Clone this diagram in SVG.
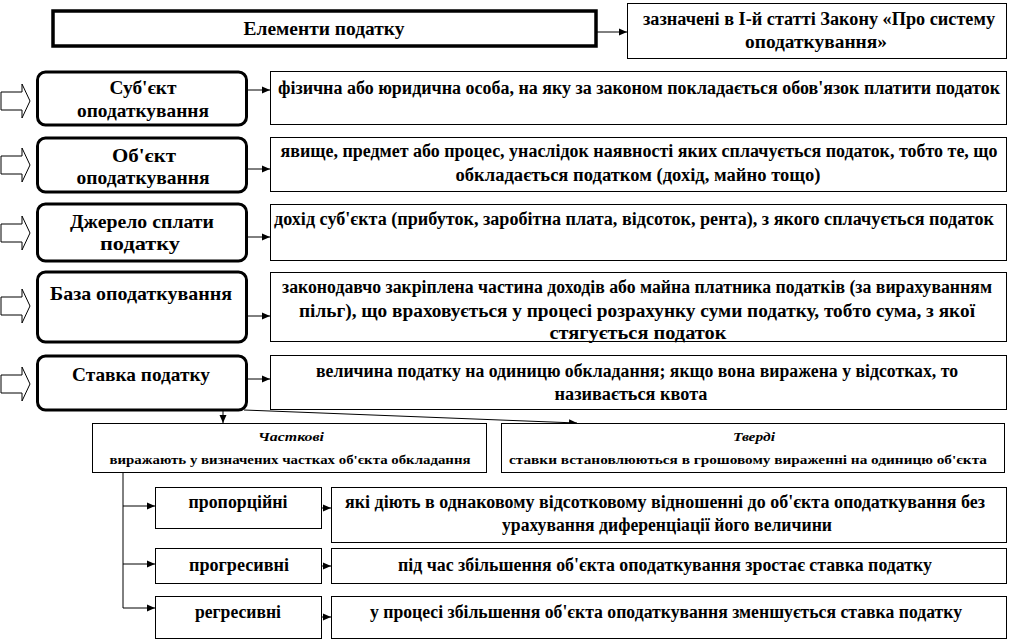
<svg xmlns="http://www.w3.org/2000/svg" width="1011" height="642" viewBox="0 0 1011 642">
<defs>
<marker id="ah" markerUnits="userSpaceOnUse" markerWidth="8" markerHeight="8" refX="8" refY="4" orient="auto">
<path d="M0,0.5 L8,4 L0,7.5 z" fill="#000"/>
</marker>
<style>
text{font-family:'Liberation Serif','Times New Roman',serif;font-weight:700;fill:#000;text-anchor:middle}
.lbl{font-size:19px}
.desc{font-size:18px}
.sm{font-size:13.5px}
.it{font-size:13px;font-style:italic}
.rb{fill:#fff;stroke:#000;stroke-width:3}
.bx{fill:#fff;stroke:#000;stroke-width:1}
.ha{fill:#fff;stroke:#000;stroke-width:1}
.cn{fill:none;stroke:#000;stroke-width:1;marker-end:url(#ah)}
.ln{fill:none;stroke:#000;stroke-width:1}
</style>
</defs>
<rect width="1011" height="642" fill="#fff"/>

<g id="connectors">
<path class="cn" d="M597,32 L627,32"/>
<path class="cn" d="M247,90 L270,90"/>
<path class="cn" d="M247,169 L270,169"/>
<path class="cn" d="M247,237 L270,237"/>
<path class="cn" d="M247,316 L270,316"/>
<path class="cn" d="M247,379 L270,379"/>
<path class="cn" d="M223,410 L223,423"/>
<path class="cn" d="M244,410 L577,423"/>
<path class="ln" d="M123,473 L123,608"/>
<path class="cn" d="M123,506 L155,506"/>
<path class="cn" d="M123,564 L155,564"/>
<path class="cn" d="M123,608 L155,608"/>
<path class="cn" d="M322,508 L331,508"/>
<path class="cn" d="M322,566 L331,566"/>
<path class="cn" d="M322,617 L331,617"/>
</g>

<g id="hollow-arrows">
<path class="ha" d="M1,92 L22,92 L22,84 L30,101 L22,118 L22,110 L1,110 z"/>
<path class="ha" d="M1,156 L22,156 L22,148 L30,165 L22,182 L22,174 L1,174 z"/>
<path class="ha" d="M1,224 L22,224 L22,216 L30,233 L22,250 L22,242 L1,242 z"/>
<path class="ha" d="M1,297 L22,297 L22,289 L30,306 L22,323 L22,315 L1,315 z"/>
<path class="ha" d="M1,375 L22,375 L22,367 L30,384 L22,401 L22,393 L1,393 z"/>
</g>

<g id="title">
<rect x="53" y="11" width="543" height="35" fill="#fff" stroke="#000" stroke-width="3.5"/>
<text class="lbl" x="324" y="35" textLength="161" lengthAdjust="spacingAndGlyphs">Елементи податку</text>
</g>

<g id="title-note">
<rect class="bx" x="627.5" y="3.5" width="379" height="55"/>
<text class="desc" x="819" y="25" textLength="352" lengthAdjust="spacingAndGlyphs">зазначені в І-й статті Закону  «Про систему</text>
<text class="desc" x="816" y="48" textLength="142" lengthAdjust="spacingAndGlyphs">оподаткування»</text>
</g>

<g id="subject">
<rect class="rb" x="37.5" y="72" width="209" height="53" rx="8"/>
<text class="lbl" x="143" y="94" textLength="67" lengthAdjust="spacingAndGlyphs">Суб'єкт</text>
<text class="lbl" x="143" y="117" textLength="132" lengthAdjust="spacingAndGlyphs">оподаткування</text>
</g>
<g id="subject-desc">
<rect class="bx" x="270.5" y="71.5" width="736" height="53"/>
<text class="desc" x="639" y="94" textLength="722" lengthAdjust="spacingAndGlyphs">фізична або юридична особа, на яку за законом покладається обов'язок платити податок</text>
</g>

<g id="object">
<rect class="rb" x="37.5" y="138" width="209" height="54" rx="8"/>
<text class="lbl" x="144" y="162" textLength="64" lengthAdjust="spacingAndGlyphs">Об'єкт</text>
<text class="lbl" x="143" y="184" textLength="133" lengthAdjust="spacingAndGlyphs">оподаткування</text>
</g>
<g id="object-desc">
<rect class="bx" x="270.5" y="137.5" width="736" height="54"/>
<text class="desc" x="639" y="157" textLength="717" lengthAdjust="spacingAndGlyphs">явище, предмет або процес, унаслідок наявності яких сплачується податок, тобто те, що</text>
<text class="desc" x="638" y="181" textLength="365" lengthAdjust="spacingAndGlyphs">обкладається податком (дохід, майно тощо)</text>
</g>

<g id="source">
<rect class="rb" x="37.5" y="204" width="209" height="57" rx="8"/>
<text class="lbl" x="142" y="228" textLength="144" lengthAdjust="spacingAndGlyphs">Джерело сплати</text>
<text class="lbl" x="140" y="250" textLength="80" lengthAdjust="spacingAndGlyphs">податку</text>
</g>
<g id="source-desc">
<rect class="bx" x="270.5" y="204.5" width="736" height="56"/>
<text class="desc" x="634" y="225" textLength="720" lengthAdjust="spacingAndGlyphs">дохід суб'єкта (прибуток, заробітна плата, відсоток, рента), з якого сплачується податок</text>
</g>

<g id="base">
<rect class="rb" x="37.5" y="272" width="209" height="70" rx="8"/>
<text class="lbl" x="141" y="300" textLength="182" lengthAdjust="spacingAndGlyphs">База оподаткування</text>
</g>
<g id="base-desc">
<rect class="bx" x="270.5" y="272.5" width="736" height="69"/>
<text class="desc" x="637" y="293" textLength="710" lengthAdjust="spacingAndGlyphs">законодавчо закріплена частина доходів або майна платника податків (за вирахуванням</text>
<text class="desc" x="637" y="317" textLength="676" lengthAdjust="spacingAndGlyphs">пільг), що враховується у процесі розрахунку суми податку, тобто сума, з якої</text>
<text class="desc" x="638" y="339" textLength="177" lengthAdjust="spacingAndGlyphs">стягується податок</text>
</g>

<g id="rate">
<rect class="rb" x="37.5" y="356" width="209" height="54" rx="8"/>
<text class="lbl" x="141" y="381" textLength="138" lengthAdjust="spacingAndGlyphs">Ставка податку</text>
</g>
<g id="rate-desc">
<rect class="bx" x="270.5" y="355.5" width="736" height="54"/>
<text class="desc" x="637" y="377" textLength="642" lengthAdjust="spacingAndGlyphs">величина податку на одиницю обкладання; якщо вона виражена у відсотках, то</text>
<text class="desc" x="631" y="400" textLength="153" lengthAdjust="spacingAndGlyphs">називається квота</text>
</g>

<g id="partial">
<rect class="bx" x="92.5" y="423.5" width="394" height="49"/>
<text class="it" x="291" y="441" textLength="66" lengthAdjust="spacingAndGlyphs">Часткові</text>
<text class="sm" x="290" y="464" textLength="361" lengthAdjust="spacingAndGlyphs">виражають у визначених частках об'єкта обкладання</text>
</g>

<g id="fixed">
<rect class="bx" x="501.5" y="423.5" width="503" height="49"/>
<text class="it" x="754" y="441" textLength="42" lengthAdjust="spacingAndGlyphs">Тверді</text>
<text class="sm" x="748" y="464" textLength="478" lengthAdjust="spacingAndGlyphs">ставки встановлюються в грошовому вираженні на одиницю об'єкта</text>
</g>

<g id="proportional">
<rect class="bx" x="155.5" y="487.5" width="166" height="41"/>
<text class="desc" x="238" y="508" textLength="99" lengthAdjust="spacingAndGlyphs">пропорційні</text>
</g>
<g id="proportional-desc">
<rect class="bx" x="331.5" y="487.5" width="675" height="55"/>
<text class="desc" x="665" y="508" textLength="640" lengthAdjust="spacingAndGlyphs">які діють в однаковому відсотковому відношенні до об'єкта оподаткування без</text>
<text class="desc" x="667" y="531" textLength="330" lengthAdjust="spacingAndGlyphs">урахування диференціації його величини</text>
</g>

<g id="progressive">
<rect class="bx" x="155.5" y="548.5" width="166" height="35"/>
<text class="desc" x="239" y="571" textLength="100" lengthAdjust="spacingAndGlyphs">прогресивні</text>
</g>
<g id="progressive-desc">
<rect class="bx" x="331.5" y="548.5" width="675" height="35"/>
<text class="desc" x="665" y="571" textLength="534" lengthAdjust="spacingAndGlyphs">під час збільшення об'єкта оподаткування зростає ставка податку</text>
</g>

<g id="regressive">
<rect class="bx" x="155.5" y="596.5" width="166" height="42"/>
<text class="desc" x="238" y="618" textLength="86" lengthAdjust="spacingAndGlyphs">регресивні</text>
</g>
<g id="regressive-desc">
<rect class="bx" x="331.5" y="596.5" width="675" height="42"/>
<text class="desc" x="666" y="618" textLength="592" lengthAdjust="spacingAndGlyphs">у процесі збільшення об'єкта оподаткування зменшується ставка податку</text>
</g>
</svg>
